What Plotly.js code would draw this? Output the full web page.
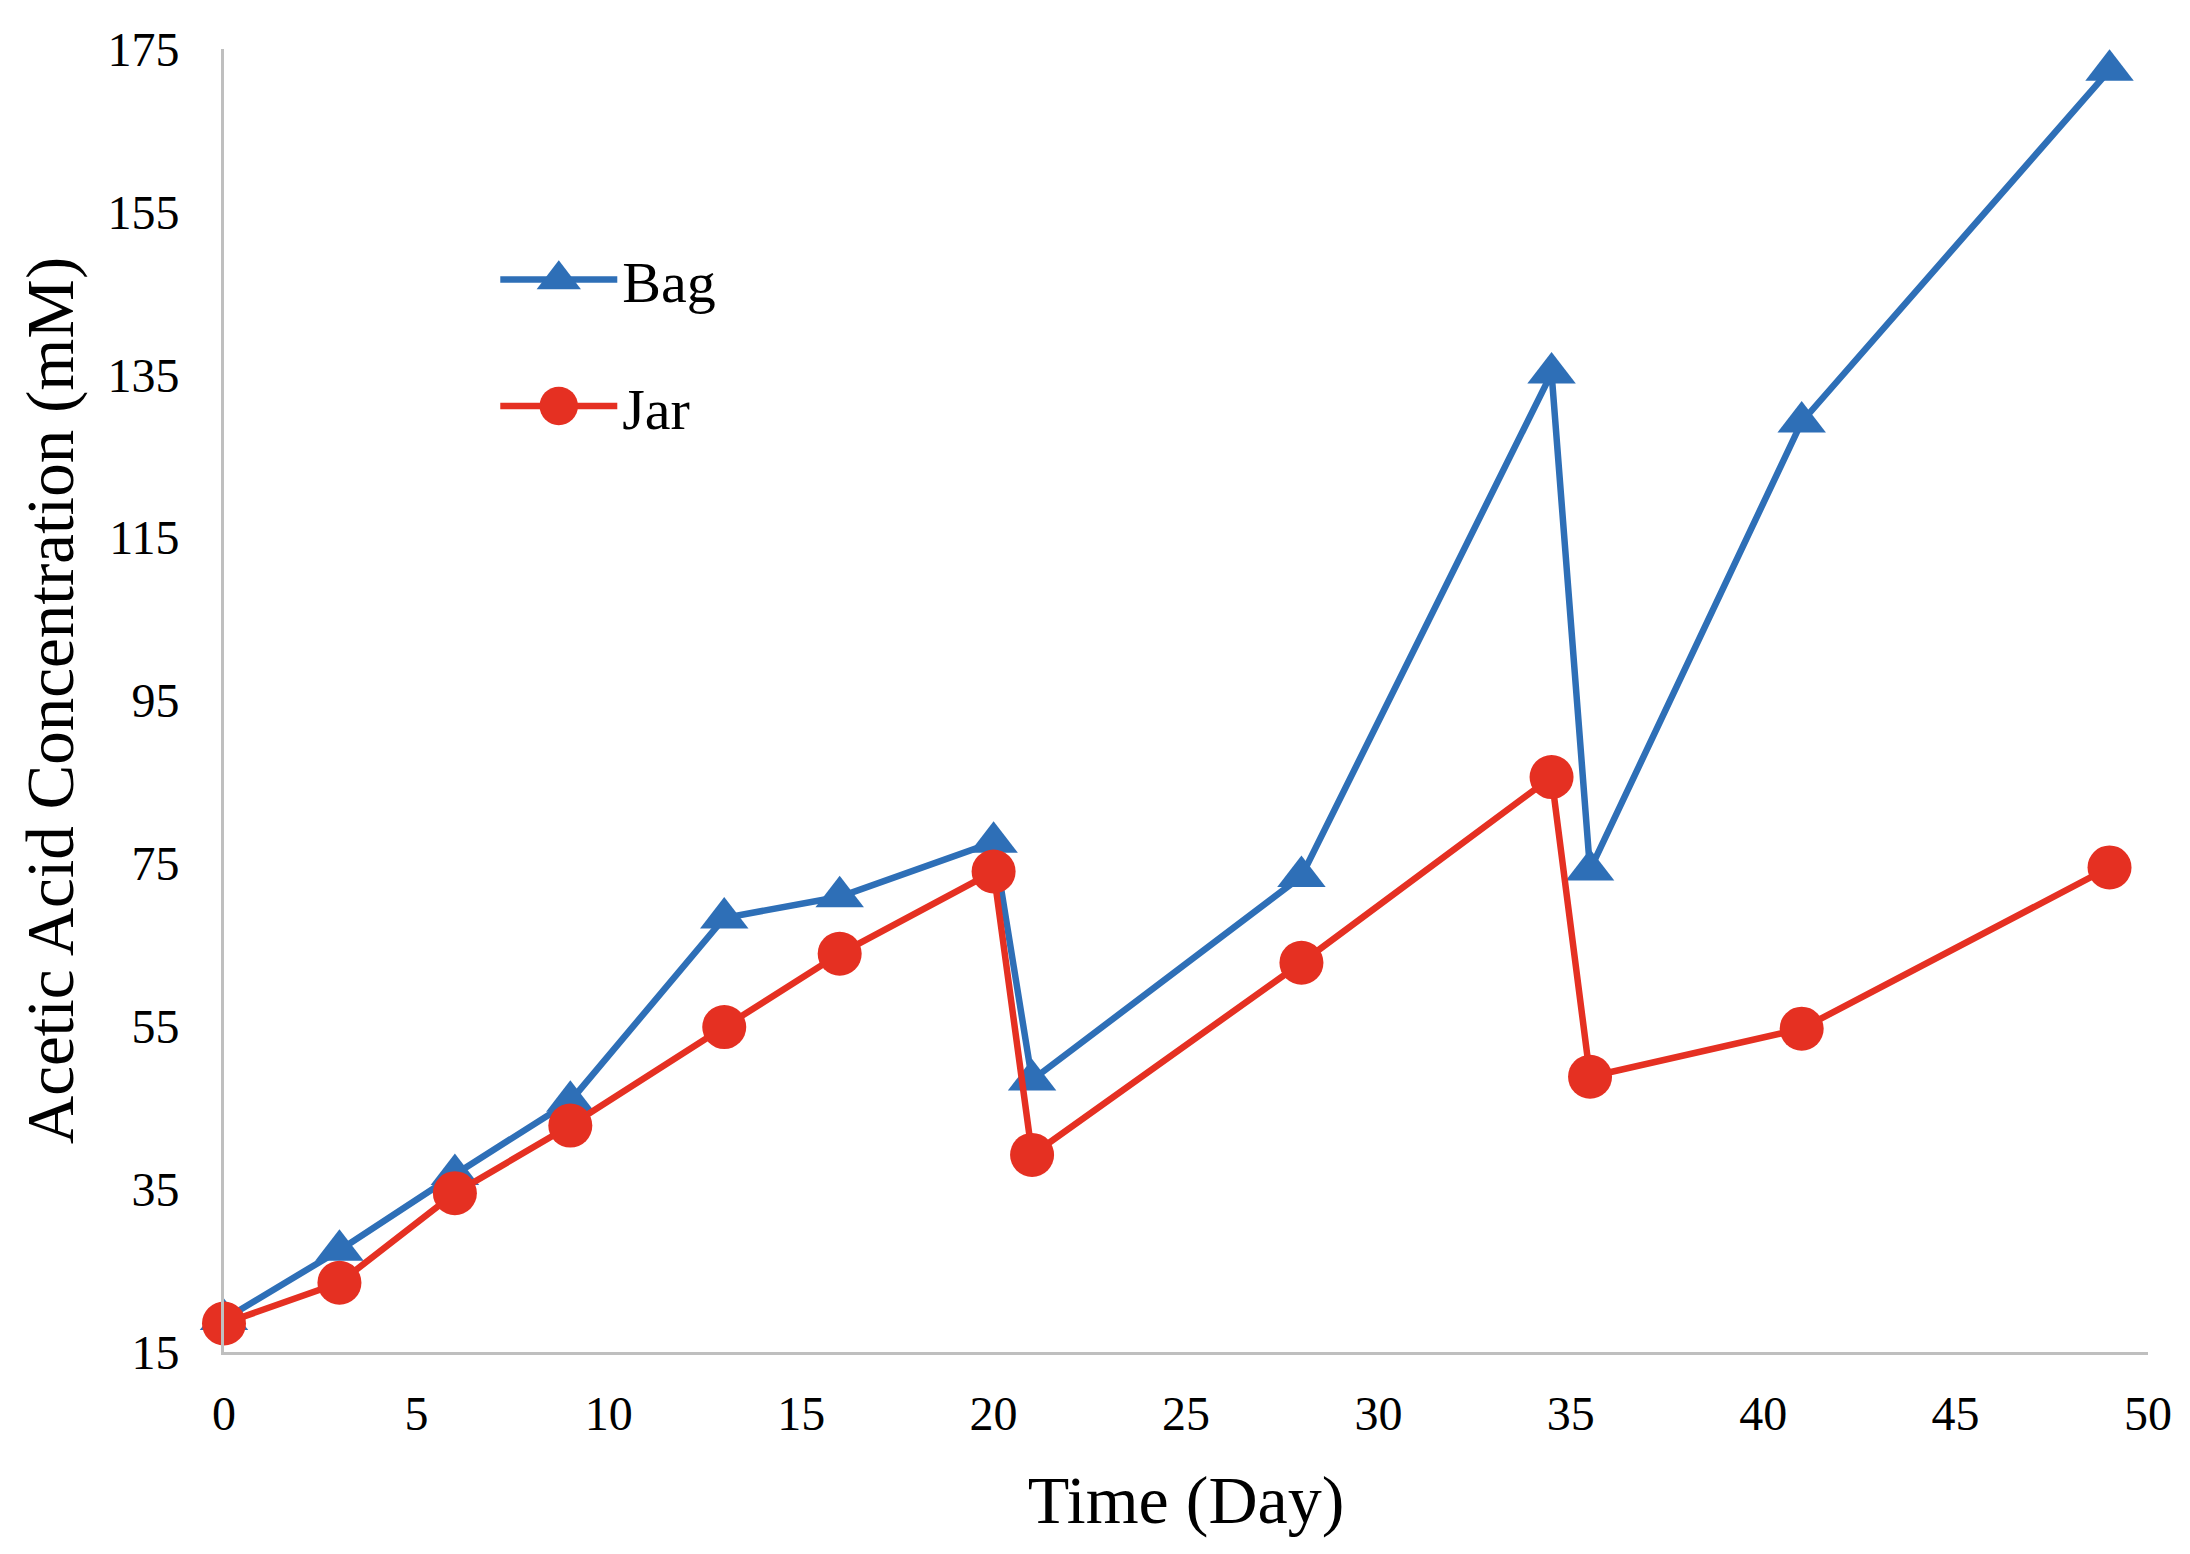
<!DOCTYPE html>
<html>
<head>
<meta charset="utf-8">
<script src="https://cdn.plot.ly/plotly-3.0.1.min.js"></script>
<style>
  html, body { margin: 0; padding: 0; background: #ffffff; }
  #chart { width: 2190px; height: 1554px; }
</style>
</head>
<body>
<div id="chart"></div>
<script>
// Data
const days = [0, 3, 6, 9, 13, 16, 20, 21, 28, 34.5, 35.5, 41, 49];
const bagValues = [19.0, 27.5, 36.8, 45.8, 68.3, 70.9, 77.6, 48.4, 73.4, 135.2, 74.2, 129.2, 172.4];
const jarValues = [18.5, 23.5, 34.5, 42.8, 54.9, 63.9, 74.0, 39.2, 62.8, 85.6, 48.8, 54.7, 74.5];
const seriesNames = ['Bag', 'Jar'];
const xTickValues = [0, 5, 10, 15, 20, 25, 30, 35, 40, 45, 50];
const yTickValues = [15, 35, 55, 75, 95, 115, 135, 155, 175];

const BLUE = '#2E6FB7';
const RED = '#E53022';
const FONT = '"Liberation Serif", "Times New Roman", serif';

const traces = [
  {
    x: days, y: bagValues, name: seriesNames[0], legendgroup: 'g1',
    type: 'scatter', mode: 'lines+markers', cliponaxis: false,
    line: { color: BLUE, width: 6.5 },
    marker: { symbol: 'triangle-up', size: 42, color: BLUE }
  },
  {
    x: days, y: jarValues, name: seriesNames[1], legendgroup: 'g2',
    type: 'scatter', mode: 'lines+markers', cliponaxis: false,
    line: { color: RED, width: 6.5 },
    marker: { symbol: 'circle', size: 44, color: RED }
  }
];

const layout = {
  width: 2190, height: 1554,
  paper_bgcolor: '#ffffff', plot_bgcolor: '#ffffff',
  margin: { l: 224, r: 42, t: 49, b: 202, pad: 0 },
  font: { family: FONT, color: '#000000', size: 48 },
  showlegend: true,
  legend: {
    x: 0.141, y: 0.857, xanchor: 'left', yanchor: 'top',
    bgcolor: 'rgba(0,0,0,0)', borderwidth: 0,
    font: { family: FONT, size: 58, color: '#000000' },
    itemwidth: 117, tracegroupgap: 48, itemclick: false
  },
  xaxis: {
    range: [0, 50], tickvals: xTickValues, ticktext: xTickValues.map(String),
    showgrid: false, zeroline: false, showline: true,
    linecolor: '#BFBFBF', linewidth: 3, ticks: '',
    ticklabelstandoff: 17,
    tickfont: { family: FONT, size: 48, color: '#000000' },
    title: { text: 'Time (Day)', font: { family: FONT, size: 68, color: '#000000' }, standoff: 37 }
  },
  yaxis: {
    range: [15, 175], tickvals: yTickValues, ticktext: yTickValues.map(String),
    showgrid: false, zeroline: false, showline: true,
    linecolor: '#BFBFBF', linewidth: 3, ticks: '',
    ticklabelstandoff: 32,
    tickfont: { family: FONT, size: 48, color: '#000000' },
    title: { text: 'Acetic Acid Concentration (mM)', font: { family: FONT, size: 67, color: '#000000' }, standoff: 12 }
  }
};

Plotly.newPlot('chart', traces, layout, { staticPlot: true, displayModeBar: false }).then(function () {
  // enlarge legend marker glyphs to match the reference's legend symbols
  document.querySelectorAll('#chart .legend path.scatterpts').forEach(function (p) {
    const t = p.getAttribute('transform') || '';
    p.setAttribute('transform', t + ' scale(2.4)');
  });
});
</script>
</body>
</html>
